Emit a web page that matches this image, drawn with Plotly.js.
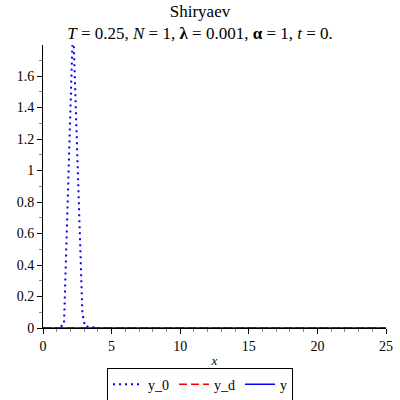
<!DOCTYPE html>
<html>
<head>
<meta charset="utf-8">
<script src="https://cdn.plot.ly/plotly-3.0.1.min.js"></script>
<style>html,body{margin:0;padding:0;background:#fff;}#chart{width:400px;height:400px;}</style>
</head>
<body>
<div id="chart"></div>
<script>
// sample points
const xValues = [0, 0.5, 1.0, 1.53, 2.19, 2.87, 3.06, 3.55, 4, 5, 6, 7, 8, 9, 10, 11, 12, 13, 14, 15, 16, 17, 18, 19, 20, 21, 22, 23, 24, 25];
const y0Values = [0, 0, 0, 0.02, 1.94, 0.095, 0.01, 0.005, 0, 0, 0, 0, 0, 0, 0, 0, 0, 0, 0, 0, 0, 0, 0, 0, 0, 0, 0, 0, 0, 0];
const ydX = [0, 25];
const ydValues = [0, 0];
const yX = [0, 25];
const yValues = [0, 0];
const seriesNames = ["y_0", "y_d", "y"];
const xTicks = [0, 5, 10, 15, 20, 25];
const yTicks = [0, 0.2, 0.4, 0.6, 0.8, 1, 1.2, 1.4, 1.6];
const yTickLabels = ["0", "0.2", "0.4", "0.6", "0.8", "1", "1.2", "1.4", "1.6"];

const font = "Liberation Serif, Times New Roman, serif";
const traces = [
  {x: xValues, y: y0Values, name: seriesNames[0], mode: "lines", line: {color: "#0000ff", dash: "2px,4px", width: 2}},
  {x: ydX, y: ydValues, name: seriesNames[1], mode: "lines", line: {color: "#ff0000", dash: "8px,4px", width: 1.5}},
  {x: yX, y: yValues, name: seriesNames[2], mode: "lines", line: {color: "#0000ff", width: 1.5}}
];
const layout = {
  width: 400, height: 400,
  margin: {l: 43, r: 14, t: 45, b: 72},
  paper_bgcolor: "#fff", plot_bgcolor: "#fff",
  font: {family: font, size: 14, color: "#000"},
  title: {text: "Shiryaev<br><i>T</i> = 0.25, <i>N</i> = 1, <b>λ</b> = 0.001, <b>α</b> = 1, <i>t</i> = 0.",
          font: {family: font, size: 17, color: "#000"}, x: 0.5, xref: "container", xanchor: "center",
          yref: "container", y: 0.957, yanchor: "middle"},
  showlegend: true,
  legend: {orientation: "h", xref: "container", yref: "container", x: 0.5, xanchor: "center", y: 0.081, yanchor: "top",
           bordercolor: "#000", borderwidth: 1, bgcolor: "#fff", font: {family: font, size: 14}, traceorder: "normal",
           itemwidth: 30},
  xaxis: {range: [0, 25], tickvals: xTicks, ticks: "outside", ticklen: 5, tickcolor: "#000",
          showline: true, linecolor: "#000", linewidth: 1, showgrid: false, zeroline: false,
          minor: {dtick: 1, ticks: "outside", ticklen: 3, tickcolor: "#888"},
          tickfont: {family: font, size: 14},
          title: {text: "<i>x</i>", font: {family: font, size: 13}, standoff: 3}, fixedrange: true},
  yaxis: {range: [0, 1.797], tickvals: yTicks, ticktext: yTickLabels, ticks: "outside", ticklen: 5, tickcolor: "#000",
          showline: true, linecolor: "#000", linewidth: 1, showgrid: false, zeroline: false,
          minor: {dtick: 0.1, ticks: "outside", ticklen: 3, tickcolor: "#888"},
          tickfont: {family: font, size: 14}, fixedrange: true}
};
Plotly.newPlot("chart", traces, layout, {displayModeBar: false, staticPlot: true});
</script>
</body>
</html>
